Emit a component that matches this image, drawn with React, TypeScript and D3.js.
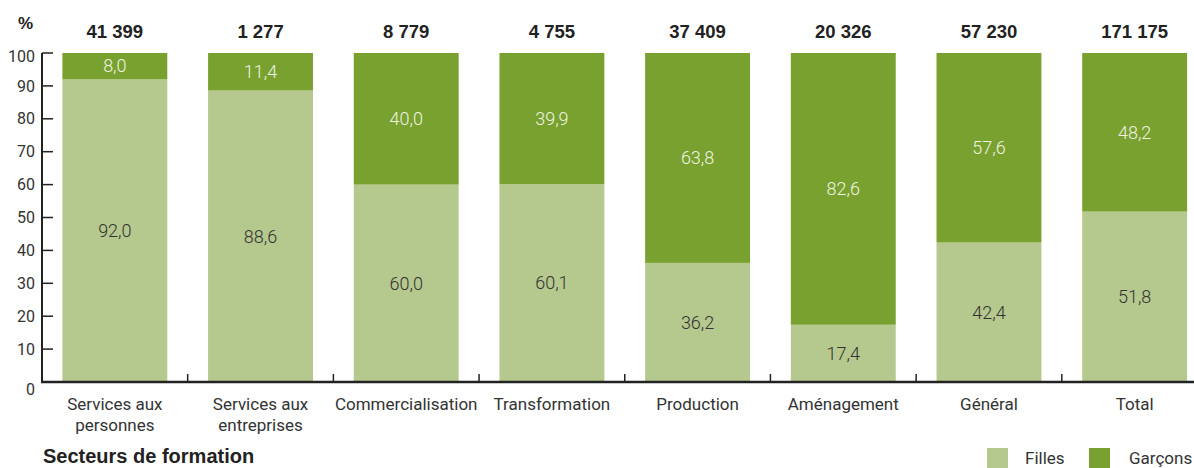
import React from "react";
import * as d3 from "d3";

const categories = [
  ["Services aux", "personnes"],
  ["Services aux", "entreprises"],
  ["Commercialisation"],
  ["Transformation"],
  ["Production"],
  ["Aménagement"],
  ["Général"],
  ["Total"],
];
const totals = ["41 399", "1 277", "8 779", "4 755", "37 409", "20 326", "57 230", "171 175"];
const filles = [92.0, 88.6, 60.0, 60.1, 36.2, 17.4, 42.4, 51.8];
const garcons = [8.0, 11.4, 40.0, 39.9, 63.8, 82.6, 57.6, 48.2];
const yTicks = [0, 10, 20, 30, 40, 50, 60, 70, 80, 90, 100];

const W = 1194;
const H = 468;
const LIGHT = "#b5c88d";
const DARK = "#79a12f";
const TEXT = "#333333";
const FONT = "Roboto, 'Liberation Sans', sans-serif";
const BOLD = "'Liberation Sans', Arial, sans-serif";
const fmt = (v: number) => v.toFixed(1).replace(".", ",");

export default function App() {
  const x = d3
    .scaleBand<number>()
    .domain(d3.range(categories.length))
    .range([42, 1207.5])
    .paddingInner(0.28)
    .paddingOuter(0.14);
  const y = d3.scaleLinear().domain([0, 100]).range([382, 53]);
  const step = x.step();
  const bandStart = (i: number) => 42 + i * step;

  return (
    <svg
      width={W}
      height={H}
      style={{ position: "absolute", left: 0, top: 0, fontFamily: FONT }}
    >
      {categories.map((_, i) => {
        const x0 = x(i)!;
        const bw = x.bandwidth();
        const f = filles[i];
        const g = garcons[i];
        return (
          <g key={i}>
            <rect x={x0} y={y(f)} width={bw} height={y(0) - y(f)} fill={LIGHT} />
            <rect x={x0} y={y(f + g)} width={bw} height={y(f) - y(f + g)} fill={DARK} />
            <text
              x={x0 + bw / 2}
              y={y(f / 2)}
              dy="0.35em"
              textAnchor="middle"
              fontSize={18}
              fontWeight={300}
              fill={TEXT}
            >
              {fmt(f)}
            </text>
            <text
              x={x0 + bw / 2}
              y={y(f + g / 2)}
              dy="0.35em"
              textAnchor="middle"
              fontSize={18}
              fontWeight={300}
              fill="#eef3e2"
            >
              {fmt(g)}
            </text>
            <text
              x={x0 + bw / 2}
              y={38}
              textAnchor="middle"
              fontSize={18.5}
              fontWeight="bold"
              fontFamily={BOLD}
              fill="#222"
            >
              {totals[i]}
            </text>
            {categories[i].map((line, k) => (
              <text
                key={k}
                x={x0 + bw / 2}
                y={410 + k * 21}
                textAnchor="middle"
                fontSize={17}
                fill={TEXT}
              >
                {line}
              </text>
            ))}
          </g>
        );
      })}

      <line x1={42} x2={42} y1={y(100)} y2={y(0)} stroke="#222" strokeWidth={2} />
      {yTicks.map((t) => (
        <g key={t}>
          {t > 0 && (
            <line x1={42} x2={53} y1={y(t)} y2={y(t)} stroke="#222" strokeWidth={1.5} />
          )}
          <text
            x={35}
            y={t === 0 ? y(t) + 7 : t === 100 ? y(t) + 3 : y(t)}
            dy="0.35em"
            textAnchor="end"
            fontSize={16}
            fill={TEXT}
          >
            {t}
          </text>
        </g>
      ))}
      <text x={18} y={29} fontSize={17} fontWeight="bold" fontFamily={BOLD} fill="#222">
        %
      </text>

      <line x1={41} x2={W} y1={y(0)} y2={y(0)} stroke="#222" strokeWidth={2.5} />
      {d3.range(1, categories.length).map((i) => (
        <line
          key={i}
          x1={bandStart(i)}
          x2={bandStart(i)}
          y1={y(0)}
          y2={y(0) - 8}
          stroke="#222"
          strokeWidth={1.5}
        />
      ))}

      <text x={43} y={463} fontSize={20} fontWeight="bold" fontFamily={BOLD} fill="#222">
        Secteurs de formation
      </text>

      <rect x={987} y={448} width={21} height={20} fill={LIGHT} />
      <text x={1025} y={464} fontSize={17} fill={TEXT}>
        Filles
      </text>
      <rect x={1089} y={448} width={21} height={20} fill={DARK} />
      <text x={1129} y={464} fontSize={17} fill={TEXT}>
        Garçons
      </text>
    </svg>
  );
}
